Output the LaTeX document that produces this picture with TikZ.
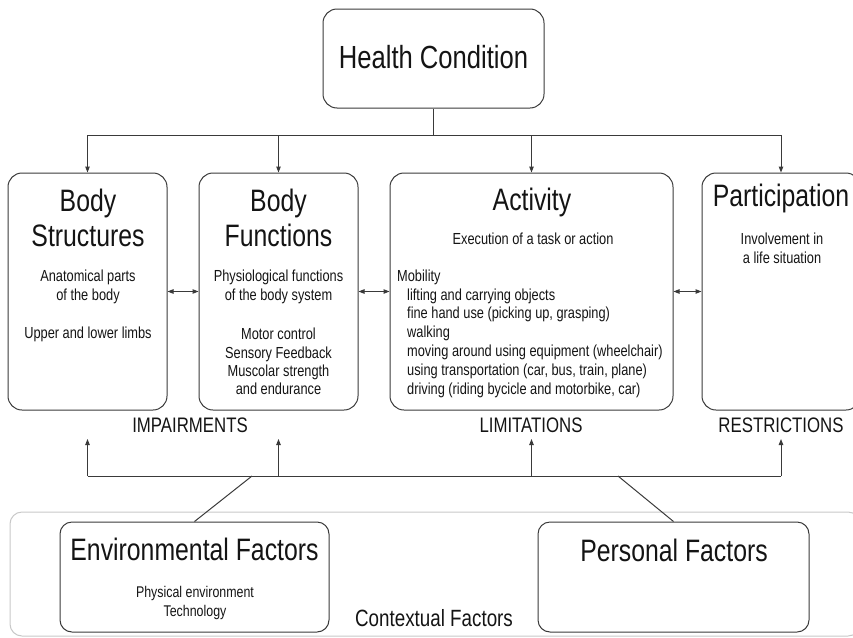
\documentclass[tikz,border=0pt]{standalone}
\usepackage{fontspec}
\setmainfont{Liberation Sans}[FakeStretch=0.8]
\usetikzlibrary{arrows.meta}
\definecolor{linec}{HTML}{3A3A3A}
\definecolor{ctxc}{HTML}{C8C8C8}
\begin{document}
\begin{tikzpicture}[x=1pt,y=-1pt,
  box/.style={draw=linec, line width=1pt, rounded corners=14pt, inner sep=0pt},
  cbox/.style={draw=linec, line width=1pt, rounded corners=12pt, inner sep=0pt},
  outerbox/.style={draw=ctxc, line width=1pt, rounded corners=12pt, inner sep=0pt},
  ttl/.style={font=\fontsize{31}{35}\selectfont, align=center, inner sep=0pt, text=black!92},
  sub/.style={font=\fontsize{16}{19}\selectfont, align=center, inner sep=0pt, text=black!92},
  lbl/.style={font=\fontsize{21}{24}\selectfont, inner sep=0pt, text=black!92},
  conn/.style={draw=linec, line width=1pt},
  arr/.style={conn, -{Triangle[length=6pt,width=4.5pt]}},
  darr/.style={conn, {Triangle[length=6pt,width=4.5pt]}-{Triangle[length=6pt,width=4.5pt]}}
]
\useasboundingbox (0,0) rectangle (853,637);
\clip (0,0) rectangle (853,637);

% contextual frame
\node[outerbox, minimum width=850pt, minimum height=124pt] (ctx) at (435,574) {};

% boxes
\node[box, minimum width=221pt, minimum height=99pt] (hc) at (433.5,58.5) {};
\node[box, minimum width=159pt, minimum height=237pt] (bs) at (87.5,291.5) {};
\node[box, minimum width=159pt, minimum height=237pt] (bf) at (278.5,291.5) {};
\node[box, minimum width=283pt, minimum height=237pt] (act) at (531.5,291.5) {};
\node[box, minimum width=158pt, minimum height=237pt] (part) at (781,291.5) {};
\node[cbox, minimum width=269pt, minimum height=110pt] (env) at (194.5,577) {};
\node[cbox, minimum width=271pt, minimum height=110pt] (pf) at (673.5,577) {};

% texts
\node[font=\fontsize{32}{36}\selectfont, inner sep=0pt, text=black!92] (hct) at (433.5,57) {Health Condition};
\node[ttl] (bst) at (88,217.5) {Body\\Structures};
\node[sub] (bss1) at (88,287) {Anatomical parts\\of the body};
\node[sub] (bss2) at (88,334) {Upper and lower limbs};
\node[ttl] (bft) at (278.5,217.5) {Body\\Functions};
\node[sub] (bfs1) at (278.5,287) {Physiological functions\\of the body system};
\node[sub, font=\fontsize{16}{18.4}\selectfont] (bfs2) at (278.5,361.5) {Motor control\\Sensory Feedback\\Muscolar strength\\and endurance};
\node[ttl] (actt) at (532,202) {Activity};
\node[sub] (acts1) at (533,239) {Execution of a task or action};
\node[sub, align=left, anchor=west, font=\fontsize{16}{18.8}\selectfont] (acts2) at (397,333.5) {Mobility\\
\hspace*{10pt}lifting and carrying objects\\
\hspace*{10pt}fine hand use (picking up, grasping)\\
\hspace*{10pt}walking\\
\hspace*{10pt}moving around using equipment (wheelchair)\\
\hspace*{10pt}using transportation (car, bus, train, plane)\\
\hspace*{10pt}driving (riding bycicle and motorbike, car)};
\node[ttl] (partt) at (781,198) {Participation};
\node[sub] (parts) at (782,248.5) {Involvement in\\a life situation};

\node[lbl] (imp) at (190,425) {IMPAIRMENTS};
\node[lbl] (lim) at (531,425) {LIMITATIONS};
\node[lbl] (res) at (781,425) {RESTRICTIONS};

\node[ttl] (envt) at (194.5,549) {Environmental Factors};
\node[sub, font=\fontsize{15.5}{19}\selectfont] (envs) at (195,602.5) {Physical environment\\Technology};
\node[ttl] (pft) at (674,550) {Personal Factors};
\node[font=\fontsize{23.5}{26}\selectfont, inner sep=0pt, text=black!92] (ctxt) at (434,618) {Contextual Factors};

% top distribution
\coordinate (topbus) at (0,135);
\draw[conn] (hc.south) -- (hc.south |- topbus);
\draw[conn] (bs.north |- topbus) -- (part.north |- topbus);
\draw[arr] (bs.north |- topbus) -- (bs.north);
\draw[arr] (bf.north |- topbus) -- (bf.north);
\draw[arr] (act.north |- topbus) -- (act.north);
\draw[arr] (part.north |- topbus) -- (part.north);

% horizontal double arrows
\draw[darr] (bs.east) -- (bf.west);
\draw[darr] (bf.east) -- (act.west);
\draw[darr] (act.east) -- (part.west);

% bottom distribution
\coordinate (botbus) at (0,476);
\coordinate (tipy) at (0,439);
\draw[conn] (bs.south |- botbus) -- (part.south |- botbus);
\draw[arr] (bs.south |- botbus) -- (bs.south |- tipy);
\draw[arr] (bf.south |- botbus) -- (bf.south |- tipy);
\draw[arr] (act.south |- botbus) -- (act.south |- tipy);
\draw[arr] (part.south |- botbus) -- (part.south |- tipy);
\coordinate (envj) at (252,476);
\coordinate (pfj) at (618,476);
\draw[conn] (env.north) -- (envj);
\draw[conn] (pf.north) -- (pfj);
\end{tikzpicture}
\end{document}
